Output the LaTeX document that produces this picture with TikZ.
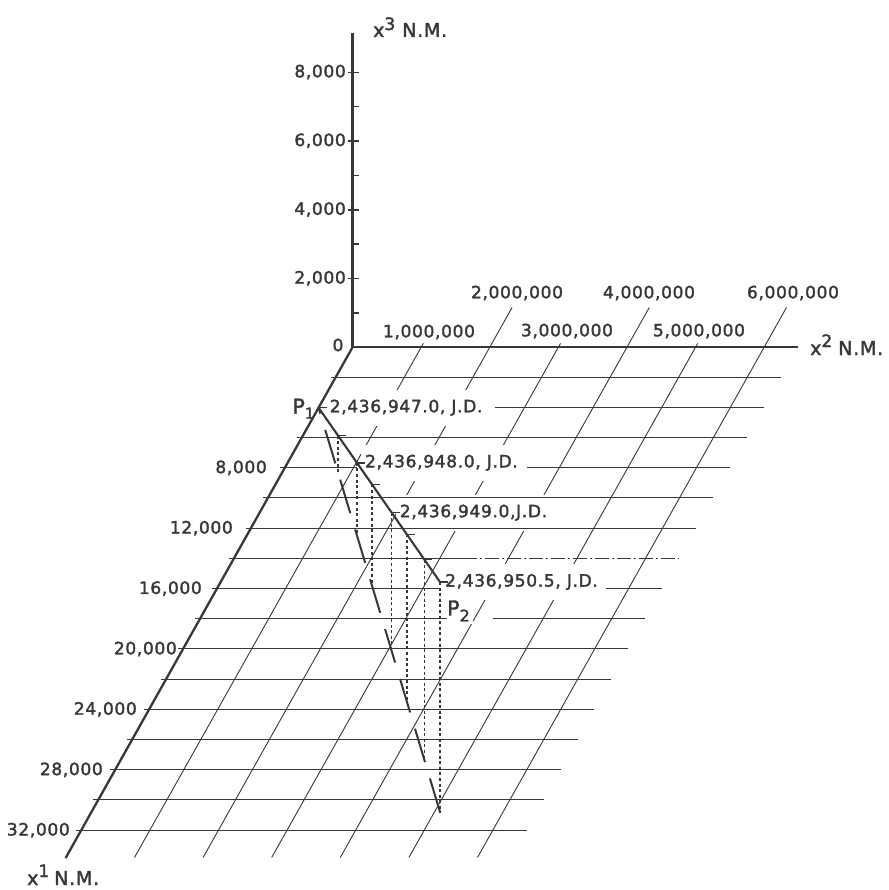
\documentclass[tikz,border=0pt]{standalone}
\usepackage{fontspec}
\usetikzlibrary{calc}
\newfontfamily\labfont[LetterSpace=4,FakeBold=2]{DejaVu Sans}
\definecolor{ink}{HTML}{383838}
\pgfdeclarelayer{bg}
\pgfdeclarelayer{slant}
\pgfdeclarelayer{maskA}
\pgfdeclarelayer{horiz}
\pgfsetlayers{bg,slant,maskA,horiz,main}
\newcommand{\fsz}[1]{\fontsize{#1}{#1}\selectfont}
\begin{document}
\begin{tikzpicture}[x=1pt,y=-1pt,
  axisline/.style={draw=ink,line width=2.3pt},
  hgrid/.style={draw=ink,line width=1.1pt},
  sgrid/.style={draw=ink,line width=0.9pt},
  trajline/.style={draw=ink,line width=2.1pt},
  groundline/.style={draw=ink,line width=2pt,dash pattern=on 35pt off 17pt},
  dropline/.style={draw=ink,line width=1.5pt,dash pattern=on 3pt off 2.6pt},
  tickline/.style={draw=ink,line width=1.5pt},
  lab/.style={text=ink,font=\labfont\fsz{17},inner sep=0pt},
  biglab/.style={text=ink,font=\labfont\fsz{20.5},inner sep=0pt},
  axlab/.style={text=ink,font=\labfont\fsz{19},inner sep=0pt,anchor=base west},
]
\useasboundingbox (0,0) rectangle (888,890);
\begin{pgfonlayer}{bg}
\fill[white] (0,0) rectangle (888,890);
\end{pgfonlayer}

% ---------- frame ----------
\coordinate (O) at (352.5,347.3);
\foreach \k in {1,...,16}{
  \pgfmathsetmacro\xs{352.5-16.96*\k-5}
  \pgfmathsetmacro\xe{352.5-16.96*\k+445.5}
  \pgfmathsetmacro\yy{floor(347+30.2*\k)+0.5}
  \coordinate (rs\k) at (\xs,\yy);
  \coordinate (re\k) at (\xe,\yy);
}
\coordinate (X3top) at (352.5,33);
\coordinate (X2end) at (798,347.3);
\coordinate (X1end) at ($(O)+16.92*(-16.96,30.19)$);

% ---------- trajectory points ----------
\coordinate (P1) at ($(O)+2*(-16.96,30.19)$);
\coordinate (E) at (440,582);
\coordinate (G) at (440,812);
\coordinate (T2) at ($(P1)!0.316!(E)$);
\coordinate (T4) at ($(P1)!0.602!(E)$);

% ---------- labels ----------
\node[lab,anchor=east] (z2) at (346,278.25) {2,000};
\node[lab,anchor=east] (z4) at (346,209.5) {4,000};
\node[lab,anchor=east] (z6) at (346,140.75) {6,000};
\node[lab,anchor=east] (z8) at (346,72) {8,000};
\node[lab] (zero) at (338,345) {0};

\node[lab] (m1) at (429,332) {1,000,000};
\node[lab] (m2) at (517,293) {2,000,000};
\node[lab] (m3) at (567,331) {3,000,000};
\node[lab] (m4) at (649,293) {4,000,000};
\node[lab] (m5) at (699,331) {5,000,000};
\node[lab] (m6) at (793,293) {6,000,000};

\node[lab,anchor=east] (a8)  at (267,467.8) {8,000};
\node[lab,anchor=east] (a12) at (233,528.2) {12,000};
\node[lab,anchor=east] (a16) at (202,588.6) {16,000};
\node[lab,anchor=east] (a20) at (177,649) {20,000};
\node[lab,anchor=east] (a24) at (137,709.4) {24,000};
\node[lab,anchor=east] (a28) at (103,769.8) {28,000};
\node[lab,anchor=east] (a32) at (70,830.2) {32,000};

\node[axlab] (x3lab) at (373,37) {x\raisebox{7pt}{\fsz{17}3}\hspace{7pt}N.M.};
\node[axlab] (x2lab) at (810,355) {x\raisebox{8pt}{\fsz{17}2}\hspace{6pt}N.M.};
\node[axlab] (x1lab) at (27,885) {x\raisebox{8pt}{\fsz{17}1}\hspace{5pt}N.M.};

\node[lab,anchor=west] (j947)  at ($(P1)+(11,0)$) {2,436,947.0, J.D.};
\node[lab,anchor=west] (j948)  at ($(T2)+(8,0)$) {2,436,948.0, J.D.};
\node[lab,anchor=west] (j949)  at ($(T4)+(8,0)$) {2,436,949.0,J.D.};
\node[lab,anchor=west] (j9505) at ($(E)+(5,0)$) {2,436,950.5, J.D.};
\node[biglab,anchor=east] (labP1) at ($(P1)+(-4,1)$) {P\raisebox{-5pt}{\fsz{15}1}};
\node[biglab,anchor=west] (labP2) at ($(E)+(7,29)$) {P\raisebox{-6pt}{\fsz{16}2}};

% ---------- slanted grid (x2 = const) ----------
\begin{pgfonlayer}{slant}
\foreach \n in {1,...,6}{
  \pgfmathsetmacro\kt{ifthenelse(mod(\n,2)==0,-1.32,-0.13)}
  \pgfmathsetmacro\xt{352.5+68.6*\n-16.96*\kt}
  \pgfmathsetmacro\yt{347.3+30.19*\kt}
  \pgfmathsetmacro\xb{352.5+68.6*\n-16.96*16.9}
  \pgfmathsetmacro\yb{347.3+30.19*16.9}
  \coordinate (st\n) at (\xt,\yt);
  \coordinate (sb\n) at (\xb,\yb);
  \draw[sgrid] (st\n) -- (sb\n);
}
\end{pgfonlayer}

% ---------- masks behind lettering ----------
\begin{pgfonlayer}{maskA}
\foreach \L in {j947,j948,j949,j9505}{
  \fill[white] ($(\L.west)+(-4,-18)$) rectangle ($(\L.east)+(6,18)$);
}
\fill[white] ($(labP2.west)+(-2,-13)$) rectangle ($(labP2.east)+(3,13)$);
\end{pgfonlayer}

% ---------- horizontal grid (x1 = const) ----------
\begin{pgfonlayer}{horiz}
\foreach \k in {1,3,5,6,10,11,12,13,14,15,16}{
  \draw[hgrid] (rs\k) -- (re\k);
}
\coordinate (g2) at ($(j947.east)+(12,0)$);
\draw[hgrid] (g2 |- rs2) -- (re2);
\coordinate (g4) at ($(j948.east)+(9,0)$);
\draw[hgrid] (rs4) -- (T2 |- rs4);
\draw[hgrid] (g4 |- rs4) -- (re4);
\coordinate (m7) at (463,0);
\draw[hgrid] (rs7) -- (m7 |- rs7);
\draw[hgrid,line width=0.9pt,dash pattern=on 14pt off 3pt on 2pt off 3pt] (m7 |- rs7) -- (re7);
\coordinate (g8) at ($(j9505.east)+(8,0)$);
\draw[hgrid] (rs8) -- (E |- rs8);
\draw[hgrid] (g8 |- rs8) -- (re8);
\coordinate (g9) at ($(labP2.east)+(23,0)$);
\draw[hgrid] (rs9) -- (labP2.west |- rs9);
\draw[hgrid] (g9 |- rs9) -- (re9);
\end{pgfonlayer}

% ---------- axes ----------
\draw[axisline] (X3top) -- (O) -- (X2end);
\draw[axisline] (O) -- (X1end);
\foreach \i in {1,2,3,4}{
  \pgfmathsetmacro\yy{347.3-68.75*\i}
  \draw[tickline] (347.5,\yy) -- (358.5,\yy);
}
\foreach \i in {0.5,1.5,2.5,3.5}{
  \pgfmathsetmacro\yy{347.3-68.75*\i}
  \draw[tickline] (352.5,\yy) -- (358.5,\yy);
}

% ---------- trajectory ----------
\draw[groundline] (G) -- (P1);
\foreach \t in {0.16,0.316,0.44,0.602,0.727,0.871,1}{
  \draw[dropline] ($(P1)!\t!(E)$) -- ($(P1)!\t!(G)$);
}
\draw[trajline] (P1) -- (E);
\foreach \t in {0,0.16,0.316,0.44,0.602,0.727,0.871,1}{
  \draw[tickline] ($(P1)!\t!(E)$) -- ++(8,0);
}
\end{tikzpicture}
\end{document}
